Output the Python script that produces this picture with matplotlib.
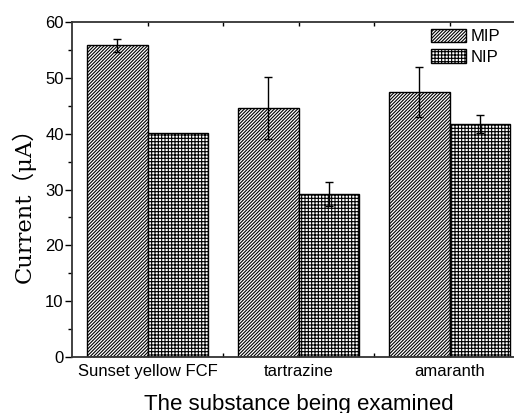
import matplotlib
matplotlib.use("Agg")
from matplotlib import pyplot as plt
import numpy as np

# Categories and measured currents (uA)
substances = ["Sunset yellow FCF", "tartrazine", "amaranth"]
mip_current = [55.8, 44.6, 47.5]
mip_error = [1.1, 5.6, 4.5]
nip_current = [40.1, 29.2, 41.8]
nip_error = [0.0, 2.2, 1.6]

plt.rcParams['font.family'] = ['Liberation Sans', 'DejaVu Sans']
plt.rcParams['hatch.linewidth'] = 0.8

fig = plt.figure(figsize=(5.14, 4.13), dpi=100)
ax = fig.add_axes([0.1401, 0.1356, 0.8813, 0.8111])

x = np.arange(1, len(substances) + 1)
width = 0.4

# MIP bars to the left of each category centre, NIP bars to the right
ax.bar(x - width / 2, mip_current, width, color='white', edgecolor='black',
       linewidth=1.0, hatch='/' * 10, label='MIP')
ax.bar(x + width / 2, nip_current, width, color='white', edgecolor='black',
       linewidth=1.0, hatch='+' * 5, label='NIP')
ax.errorbar(x - width / 2, mip_current, yerr=mip_error, fmt='none',
            ecolor='black', elinewidth=1.0, capsize=3, capthick=1.0)
ax.errorbar(x[1:] + width / 2, nip_current[1:], yerr=nip_error[1:], fmt='none',
            ecolor='black', elinewidth=1.0, capsize=3, capthick=1.0)

ax.set_xlim(0.5, 3.5)
ax.set_ylim(0, 60)

# Axis ticks
ax.set_yticks(np.arange(0, 61, 10))
ax.set_yticks(np.arange(5, 60, 10), minor=True)
ax.set_xticks(x)
ax.set_xticklabels(substances)
ax.set_xticks([1.5, 2.5], minor=True)
ax.tick_params(axis='y', which='major', length=5, width=1.0, labelsize=12, pad=1)
ax.tick_params(axis='y', which='minor', length=3, width=1.0)
ax.tick_params(axis='x', which='both', direction='in', length=3, width=1.0,
               top=True)
ax.tick_params(axis='x', which='major', labelsize=12, pad=5)

for side in ['left', 'bottom', 'top']:
    ax.spines[side].set_linewidth(1.3)
    ax.spines[side].set_color('#333333')
ax.spines['right'].set_visible(False)

ax.set_xlabel("The substance being examined", fontsize=16, labelpad=10.5)
ax.set_ylabel("Current（μA）", fontsize=16.3,
              family=['DejaVu Serif', 'Noto Sans CJK SC'])
ax.yaxis.set_label_coords(-0.08, 0.47)

fig.legend(loc='upper left', bbox_to_anchor=(0.838, 0.93), frameon=False,
           fontsize=12, handlelength=2.1, handleheight=0.85,
           handletextpad=0.3, labelspacing=0.3, borderpad=0,
           borderaxespad=0)

fig.savefig("out.png", dpi=100)
